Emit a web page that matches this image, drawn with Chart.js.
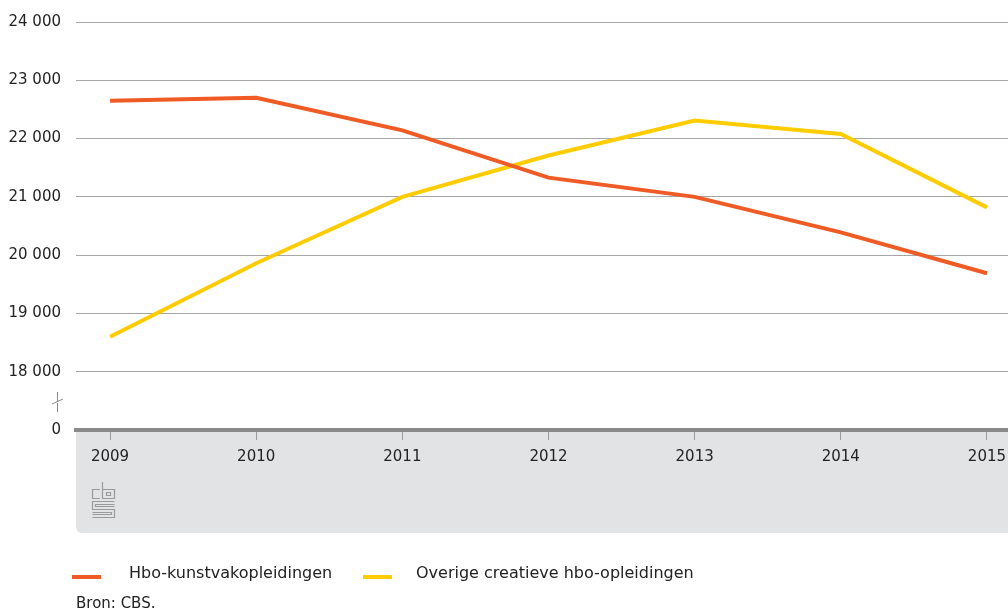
<!DOCTYPE html>
<html>
<head>
<meta charset="utf-8">
<script src="https://cdn.jsdelivr.net/npm/chart.js@4"></script>
<style>
  html, body { margin: 0; padding: 0; background: #fff; }
  canvas { display: block; }
</style>
</head>
<body>
<canvas id="chart" width="1008" height="614"></canvas>
<script>
// Gegevens
const jaren = [2009, 2010, 2011, 2012, 2013, 2014, 2015];
const kunstvak = [22650, 22700, 22140, 21330, 21000, 20390, 19690];
const overigCreatief = [18600, 19860, 21000, 21710, 22310, 22080, 20820];
const yTicks = [17000, 18000, 19000, 20000, 21000, 22000, 23000, 24000];
const legendaLabels = ['Hbo-kunstvakopleidingen', 'Overige creatieve hbo-opleidingen'];
const bron = 'Bron: CBS.';

const ORANJE = '#f05a24';
const GEEL = '#ffcc00';
const FONT = '"DejaVu Sans", sans-serif';

function fmt(v) {
    if (v === 17000) return '0'; // as-onderbreking
    return String(v).replace(/\B(?=(\d{3})+(?!\d))/g, ' ');
}

// grijze band onder de x-as, asonderbreking, logo, legenda en bron
const decor = {
    id: 'decor',
    beforeDraw(chart) {
        const c = chart.ctx;
        const a = chart.chartArea;
        c.save();
        c.fillStyle = '#e2e3e5';
        c.beginPath();
        c.roundRect(a.left, a.bottom, chart.width - a.left, 103, [0, 0, 0, 6]);
        c.fill();
        c.restore();
    },
    afterDraw(chart) {
        const c = chart.ctx;
        c.save();
        // onderbreking
        c.strokeStyle = '#8a8a8a';
        c.lineWidth = 1;
        c.beginPath();
        c.moveTo(57.5, 392); c.lineTo(57.5, 401);
        c.moveTo(57.5, 403); c.lineTo(57.5, 412);
        c.moveTo(52, 404); c.lineTo(63, 399);
        c.stroke();

        // cbs-logo (vereenvoudigd)
        c.strokeStyle = '#9a9a9a';
        c.lineWidth = 1.2;
        c.beginPath();
        c.moveTo(100, 489.5); c.lineTo(92.5, 489.5); c.lineTo(92.5, 498.5); c.lineTo(100, 498.5);
        c.moveTo(102.5, 482); c.lineTo(102.5, 498.5); c.lineTo(114.5, 498.5); c.lineTo(114.5, 489.5); c.lineTo(102.5, 489.5);
        c.rect(106.5, 492.5, 4, 3);
        c.moveTo(114.5, 501.5); c.lineTo(92.5, 501.5); c.lineTo(92.5, 509.5); c.lineTo(114.5, 509.5);
        c.lineTo(114.5, 517.5); c.lineTo(92.5, 517.5);
        c.moveTo(114.5, 504.5); c.lineTo(95.5, 504.5); c.lineTo(95.5, 506.5); c.lineTo(114.5, 506.5);
        c.moveTo(92.5, 512.5); c.lineTo(111.5, 512.5); c.lineTo(111.5, 514.5); c.lineTo(92.5, 514.5);
        c.stroke();

        // legenda
        c.font = '16px ' + FONT;
        c.textBaseline = 'middle';
        const items = [
            { kleur: ORANJE, x: 72, tx: 129 },
            { kleur: GEEL, x: 363, tx: 416 }
        ];
        items.forEach((it, i) => {
            c.fillStyle = it.kleur;
            c.fillRect(it.x, 575, 29, 4);
            c.fillStyle = '#222';
            c.fillText(legendaLabels[i], it.tx, 574);
        });
        c.font = '15px ' + FONT;
        c.fillText(bron, 76, 604);
        c.restore();
    }
};

const ctx = document.getElementById('chart').getContext('2d');

new Chart(ctx, {
    type: 'line',
    data: {
        datasets: [{
            label: legendaLabels[0],
            data: jaren.map((j, i) => ({ x: j, y: kunstvak[i] })),
            borderColor: ORANJE,
            borderWidth: 4,
            pointRadius: 0,
            tension: 0
        }, {
            label: legendaLabels[1],
            data: jaren.map((j, i) => ({ x: j, y: overigCreatief[i] })),
            borderColor: GEEL,
            borderWidth: 4,
            pointRadius: 0,
            tension: 0
        }]
    },
    options: {
        responsive: false,
        animation: false,
        layout: { padding: { top: 22, bottom: 81, left: 0, right: 0 } },
        plugins: {
            legend: { display: false },
            title: { display: false },
            tooltip: { enabled: false }
        },
        scales: {
            x: {
                type: 'linear',
                min: 2008.767,
                max: 2015.144,
                afterBuildTicks: (s) => { s.ticks = jaren.map(v => ({ value: v })); },
                afterFit: (s) => { s.height = 103; s.paddingLeft = 0; s.paddingRight = 0; },
                ticks: {
                    font: { family: FONT, size: 15 },
                    color: '#222',
                    padding: 8,
                    maxRotation: 0,
                    autoSkip: false,
                    callback: (v) => String(v)
                },
                grid: {
                    drawOnChartArea: false,
                    drawTicks: true,
                    tickLength: 10,
                    color: '#9a9a9a'
                },
                border: { color: '#8a8a8a', width: 4 }
            },
            y: {
                min: 17000,
                max: 24000,
                afterBuildTicks: (s) => { s.ticks = yTicks.map(v => ({ value: v })); },
                afterFit: (s) => { s.width = 76; s.paddingTop = 0; s.paddingBottom = 0; },
                ticks: {
                    font: { family: FONT, size: 15 },
                    color: '#222',
                    padding: 15,
                    callback: (v) => fmt(v)
                },
                grid: {
                    color: (c) => c.tick && c.tick.value === 17000 ? 'rgba(0,0,0,0)' : '#a6a6a6',
                    lineWidth: 1,
                    drawTicks: false
                },
                border: { display: false }
            }
        }
    },
    plugins: [decor]
});
</script>
</body>
</html>
